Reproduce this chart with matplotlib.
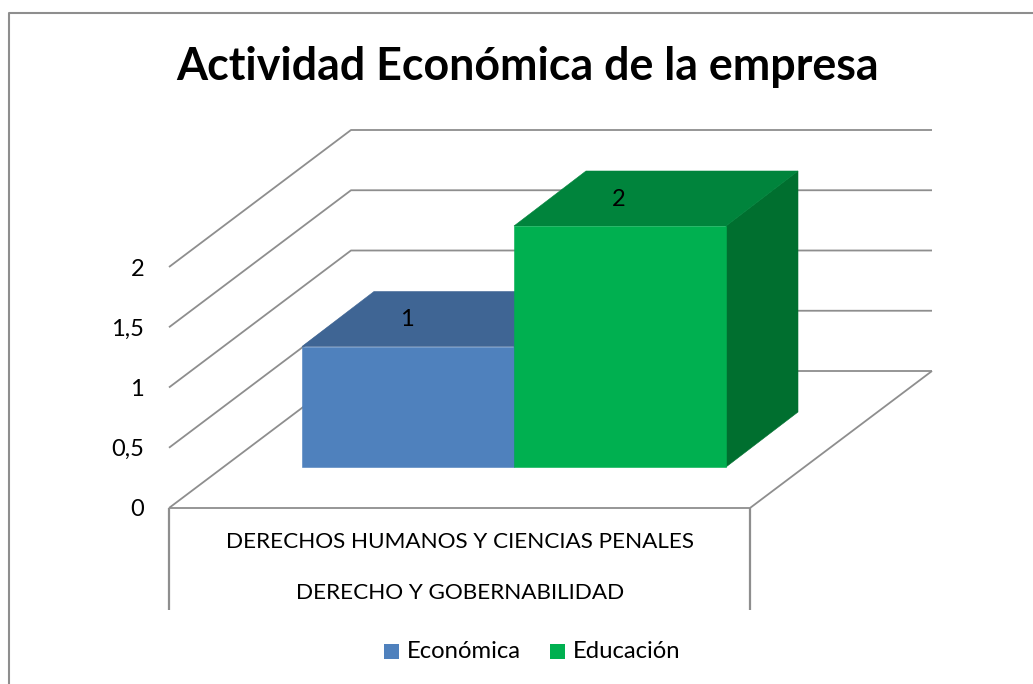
import matplotlib
matplotlib.use('Agg')
import matplotlib.pyplot as plt
from matplotlib.patches import Polygon, Rectangle

# Data
categories = ['DERECHOS HUMANOS Y CIENCIAS PENALES', 'DERECHO Y GOBERNABILIDAD']
series = ['Económica', 'Educación']
values = [1, 2]
y_ticks = [0, 0.5, 1, 1.5, 2]
y_labels = ['0', '0,5', '1', '1,5', '2']
title = 'Actividad Económica de la empresa'

face_colors = ['#4F81BD', '#00B050']
top_colors = ['#3F6594', '#00843C']
side_colors = ['#2F4F78', '#006F2F']
grid_color = '#8E8E8E'

plt.rcParams['font.family'] = ['Lato', 'DejaVu Sans']

fig = plt.figure(figsize=(10.33, 6.84), dpi=100)
ax = fig.add_axes([0, 0, 1, 1])
ax.set_xlim(0, 1033)
ax.set_ylim(684, 0)
ax.axis('off')

# Oblique box geometry in pixels
wall_left, wall_right = 169, 750
depth_x, depth_y = 182, -137
floor_y = 508
unit = 120.5
bar_floor_y = 467
bar_left = 302
bar_width = 212
bar_dx, bar_dy = 72, -55


def grid_y(v):
    return floor_y - v * unit


def bar_y(v):
    return bar_floor_y - v * unit


def line(xs, ys, lw=1.3):
    ax.plot(xs, ys, color=grid_color, lw=lw, solid_capstyle='butt', zorder=1)


# chart frame, the crop only shows the left and top edges
line([9, 9, 1033], [684, 12.5, 12.5], lw=1.5)

# walls
for v in y_ticks:
    y = grid_y(v)
    line([wall_left, wall_left + depth_x, wall_right + depth_x], [y, y + depth_y, y + depth_y])
line([wall_left, wall_right, wall_right + depth_x], [floor_y, floor_y, floor_y + depth_y])
line([wall_left, wall_left], [floor_y, 610], lw=1.6)
line([wall_right, wall_right], [floor_y, 610], lw=1.6)

for v, lab in zip(y_ticks, y_labels):
    ax.text(144, grid_y(v) + 2, lab, ha='right', va='center', fontsize=17, color='black')

# bars
for i, v in enumerate(values):
    x0 = bar_left + i * bar_width
    x1 = x0 + bar_width
    y = bar_y(v)
    ax.add_patch(Polygon([(x1, y), (x1 + bar_dx, y + bar_dy), (x1 + bar_dx, bar_floor_y + bar_dy),
                          (x1, bar_floor_y)], fc=side_colors[i], ec=side_colors[i], lw=0.4, zorder=2 + i))
    ax.add_patch(Polygon([(x0, y), (x0 + bar_dx, y + bar_dy), (x1 + bar_dx, y + bar_dy), (x1, y)],
                         fc=top_colors[i], ec=top_colors[i], lw=0.4, zorder=2 + i))
    ax.add_patch(Rectangle((x0, y), bar_width, v * unit, fc=face_colors[i], ec=face_colors[i], lw=0.4, zorder=2 + i))
    ax.text(x0 + bar_width / 2 - 1, y - 27, str(v), ha='center', va='center',
            fontsize=17, color='black', zorder=6)

# category labels
ax.text(460, 542, categories[0], ha='center', va='center', fontsize=16.2, color='black')
ax.text(460, 593, categories[1], ha='center', va='center', fontsize=16.2, color='black')

ax.text(527.5, 67, title, ha='center', va='center', fontsize=32.2, fontweight='bold', color='black')

# legend
for x, c, name in zip([384, 550], face_colors, series):
    ax.add_patch(Rectangle((x, 644), 15, 15, color=c, lw=0))
    ax.text(x + 23, 652, name, ha='left', va='center', fontsize=17.2, color='black')

fig.savefig('out.png', dpi=100, facecolor='white')
